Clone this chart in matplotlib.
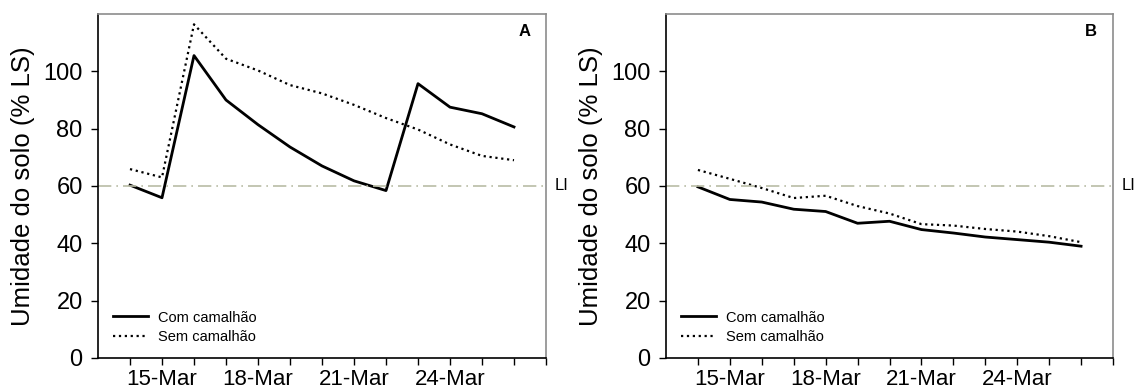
import pandas as pd
import matplotlib
matplotlib.use("Agg")
import matplotlib.pyplot as plt

plt.rcParams['font.family'] = ['Liberation Sans', 'DejaVu Sans']

# Datas das leituras (14 a 26 de março)
dates = pd.to_datetime([
    "2011-03-14", "2011-03-15", "2011-03-16", "2011-03-17", "2011-03-18",
    "2011-03-19", "2011-03-20", "2011-03-21", "2011-03-22", "2011-03-23",
    "2011-03-24", "2011-03-25", "2011-03-26",
])

# Painel A
a_com = [60.3, 55.9, 105.5, 90.0, 81.4, 73.6, 67.0, 61.8, 58.4, 95.7, 87.5, 85.2, 80.6]
a_sem = [65.9, 63.0, 116.4, 104.4, 100.3, 95.2, 92.3, 88.3, 83.7, 79.7, 74.5, 70.5, 69.0]

# Painel B
b_com = [59.7, 55.3, 54.4, 51.9, 51.1, 47.0, 47.7, 44.8, 43.6, 42.2, 41.3, 40.4, 39.0]
b_sem = [65.6, 62.5, 59.3, 55.8, 56.6, 53.0, 50.4, 46.7, 46.2, 45.0, 44.1, 42.5, 40.4]

li_value = 60
tick_dates = pd.to_datetime(["2011-03-15", "2011-03-18", "2011-03-21", "2011-03-24"])
x_limits = pd.to_datetime(["2011-03-13", "2011-03-27"])

panels = [
    ("A", a_com, a_sem, [98 / 1136, 34 / 392, 448 / 1136, 344 / 392]),
    ("B", b_com, b_sem, [666 / 1136, 34 / 392, 447 / 1136, 344 / 392]),
]

fig = plt.figure(figsize=(11.36, 3.92), dpi=100)

for letter, com, sem, rect in panels:
    ax = fig.add_axes(rect)
    ax.plot(dates, com, color='black', linewidth=2.0, label='Com camalhão')
    ax.plot(dates, sem, color='black', linewidth=1.6, linestyle=':', label='Sem camalhão')
    ax.axhline(li_value, color='#b9bca6', linewidth=1.2, linestyle='-.', dashes=(8, 3, 1, 3))
    ax.text(1.02, li_value, 'LI', transform=ax.get_yaxis_transform(),
            ha='left', va='center', fontsize=12)
    ax.text(0.965, 0.948, letter, transform=ax.transAxes, ha='right', va='center',
            fontsize=12, fontweight='bold')

    ax.set_xlim(x_limits[0], x_limits[1])
    ax.set_ylim(0, 120)
    ax.set_yticks([0, 20, 40, 60, 80, 100])
    xt = list(dates) + [x_limits[1]]
    ax.set_xticks(xt)
    ax.set_xticklabels([d.strftime('%d-%b') if d in tick_dates else '' for d in xt])

    ax.tick_params(axis='both', direction='out', length=5, width=1)
    ax.tick_params(axis='y', pad=6, labelsize=17)
    ax.tick_params(axis='x', pad=3, labelsize=16)
    ax.set_ylabel('Umidade do solo (% LS)', fontsize=18.5, labelpad=6)

    for side in ['left', 'bottom']:
        ax.spines[side].set_color('black')
        ax.spines[side].set_linewidth(1.2)
    for side in ['top', 'right']:
        ax.spines[side].set_color('#8c8c8c')
        ax.spines[side].set_linewidth(1.2)

    ax.legend(loc='lower left', bbox_to_anchor=(0.01, 0.012), frameon=False, fontsize=10.5,
              handlelength=2.4, handletextpad=0.7, labelspacing=0.35, borderaxespad=0.3)

fig.savefig('out.png', dpi=100)
